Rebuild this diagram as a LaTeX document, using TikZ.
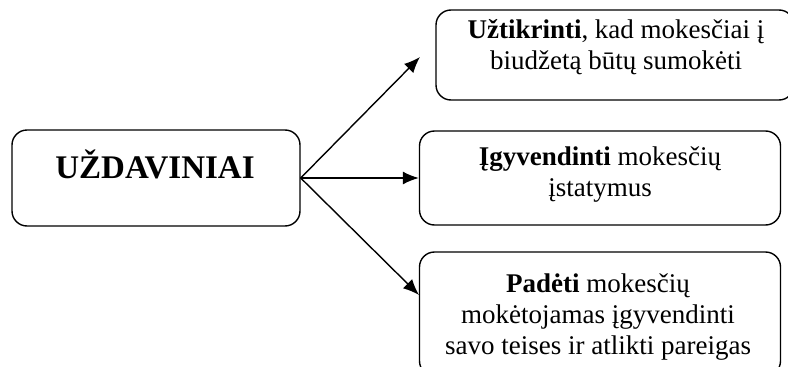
\documentclass[tikz,border=0pt]{standalone}
\usepackage{fontspec}
\setmainfont{Liberation Serif}
\usetikzlibrary{arrows.meta}
\begin{document}
\begin{tikzpicture}[x=1pt,y=-1pt,
  boxstyle/.style={draw,line width=1.4pt,rounded corners=15pt,inner sep=0pt},
  txt/.style={align=center,font=\fontsize{27}{31}\selectfont,inner sep=0pt},
  arr/.style={line width=1.4pt,-{Latex[length=16pt,width=13pt]}}]
\useasboundingbox (0,0) rectangle (788,367);
\clip (0,0) rectangle (788,367);
\node[boxstyle,minimum width=288pt,minimum height=96pt] (L) at (156,178) {};
\node[font=\fontsize{33}{36}\selectfont\bfseries,inner sep=0pt] (Lt) at (155,164) {UŽDAVINIAI};
\node[boxstyle,minimum width=358pt,minimum height=90pt] (B1) at (615,55) {};
\node[txt] (T1) at (616,47) {\textbf{Užtikrinti}, kad mokesčiai į\\biudžetą būtų sumokėti};
\node[boxstyle,minimum width=361pt,minimum height=94pt] (B2) at (600,178) {};
\node[txt] (T2) at (600,175) {\textbf{Įgyvendinti} mokesčių\\įstatymus};
\node[boxstyle,minimum width=361pt,minimum height=124pt] (B3) at (600,314) {};
\node[txt] (T3) at (598,317) {\textbf{Padėti} mokesčių\\mokėtojamas įgyvendinti\\savo teises ir atlikti pareigas};
\coordinate (A1) at (420,57);
\coordinate (A3) at (419,295);
\draw[arr] (L.east) -- (A1);
\draw[arr] (L.east) -- (B2.west);
\draw[arr] (L.east) -- (A3);
\end{tikzpicture}
\end{document}
